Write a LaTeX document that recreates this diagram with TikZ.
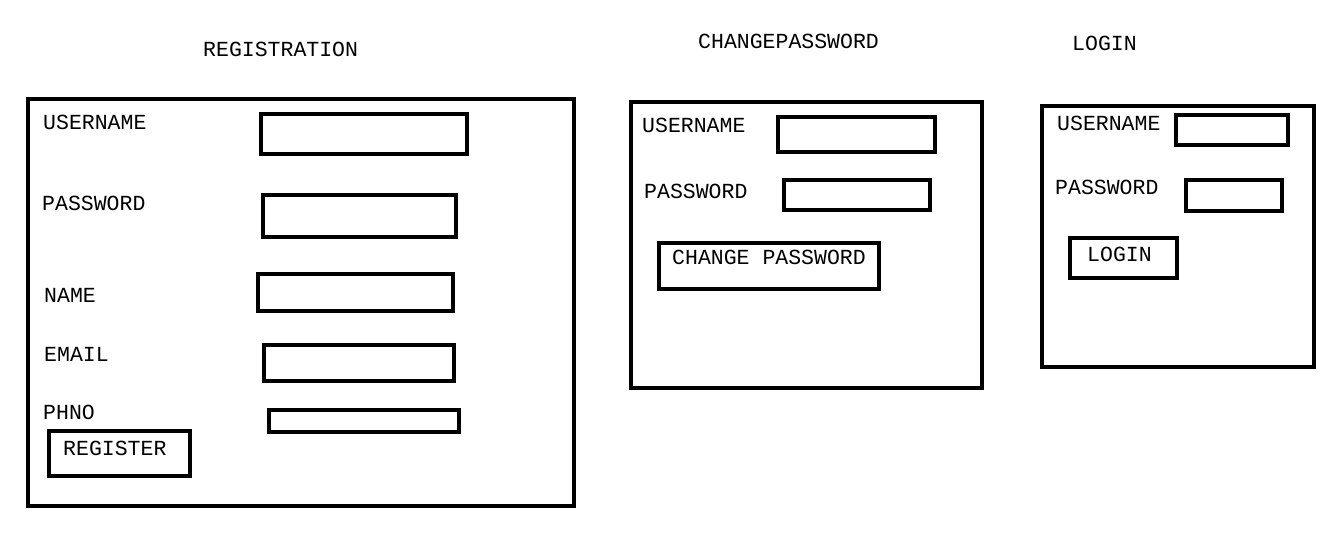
\documentclass[tikz,border=0pt]{standalone}
\usepackage{fontspec}
\setmonofont{Liberation Mono}
\usetikzlibrary{positioning}

\begin{document}
\begin{tikzpicture}[
    x=1pt, y=-1pt,
    frame/.style={draw, rectangle, line width=4.2pt, inner sep=0pt},
    field/.style={draw, rectangle, line width=4.2pt, inner sep=0pt},
    caption/.style={font=\ttfamily\fontsize{21.5}{21.5}\selectfont, anchor=base west, inner sep=0pt}
]
\fill[white] (0,0) rectangle (1341,552);
\useasboundingbox (0,0) rectangle (1341,552);

% Titles
\node[caption] (tReg) at (203,56) {REGISTRATION};
\node[caption] (tChange) at (698,48) {CHANGEPASSWORD};
\node[caption] (tLogin) at (1072,50) {LOGIN};

% Screen 1: Registration (Left)
\node[frame, minimum width=546pt, minimum height=407pt] (R) at (301,302.5) {};
\node[field, minimum width=206pt, minimum height=40pt] (R1) at (364,134) {};
\node[field, minimum width=193pt, minimum height=42pt] (R2) at (359.5,216) {};
\node[field, minimum width=195pt, minimum height=37pt] (R3) at (355.5,292.5) {};
\node[field, minimum width=190pt, minimum height=36pt] (R4) at (359,363) {};
\node[field, minimum width=190pt, minimum height=22pt] (R5) at (364,421) {};
\node[field, minimum width=141pt, minimum height=45pt] (RB) at (119.5,453.5) {};
\node[caption] (lR1) at (43,129) {USERNAME};
\node[caption] (lR2) at (42,210) {PASSWORD};
\node[caption] (lR3) at (44,302) {NAME};
\node[caption] (lR4) at (44,361) {EMAIL};
\node[caption] (lR5) at (43,419) {PHNO};
\node[caption] (lRB) at (63,455) {REGISTER};

% Screen 2: Change password (Center)
\node[frame, minimum width=351pt, minimum height=286pt] (C) at (806.5,245) {};
\node[field, minimum width=157pt, minimum height=35pt] (C1) at (856.5,134.5) {};
\node[field, minimum width=146pt, minimum height=30pt] (C2) at (857,195) {};
\node[field, minimum width=220pt, minimum height=46pt] (CB) at (769,266) {};
\node[caption] (lC1) at (642,132) {USERNAME};
\node[caption] (lC2) at (644,198) {PASSWORD};
\node[caption] (lCB) at (672,264) {CHANGE PASSWORD};

% Screen 3: Login (Right)
\node[frame, minimum width=272pt, minimum height=261pt] (L) at (1178,236.5) {};
\node[field, minimum width=112pt, minimum height=30pt] (L1) at (1232,130) {};
\node[field, minimum width=96pt, minimum height=31pt] (L2) at (1234,195.5) {};
\node[field, minimum width=107pt, minimum height=40pt] (LB) at (1123.5,258) {};
\node[caption] (lL1) at (1057,130) {USERNAME};
\node[caption] (lL2) at (1055,194) {PASSWORD};
\node[caption] (lLB) at (1087,261) {LOGIN};

\end{tikzpicture}
\end{document}
